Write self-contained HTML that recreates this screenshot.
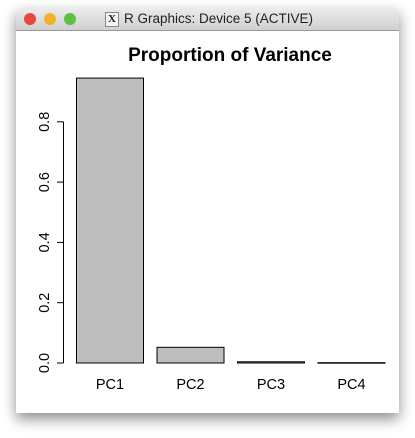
<!DOCTYPE html>
<html><head><meta charset="utf-8"><style>
html,body{margin:0;padding:0;background:#fff;width:415px;height:438px;overflow:hidden}
#win{position:absolute;left:16px;top:8px;width:383px;height:405px;background:#fff;box-shadow:0 6px 14px rgba(0,0,0,.45);border-radius:4px 4px 0 0}
#tb{position:absolute;left:0;top:0;width:383px;height:22px;background:linear-gradient(#ececec,#cfcfcf);border-bottom:1px solid #999;border-radius:4px 4px 0 0;font:13.5px "Liberation Sans",sans-serif;color:#222}
.btn{position:absolute;top:5px;width:12px;height:12px;border-radius:50%}
</style></head><body>
<div id="win">
<div id="tb">
<div class="btn" style="left:8px;background:#e5483f"></div>
<div class="btn" style="left:28px;background:#f2b22c"></div>
<div class="btn" style="left:48px;background:#5fbf45"></div>
<div style="position:absolute;left:89px;top:4px;width:12px;height:13px;background:#f4f4f4;border:1px solid #888;font:bold 11px 'Liberation Serif',serif;line-height:13px;text-align:center">X</div>
<div style="position:absolute;left:108px;top:3px">R Graphics: Device 5 (ACTIVE)</div>
</div>
</div>
<svg id="chart" width="415" height="438" style="position:absolute;left:0;top:0" font-family="Liberation Sans, sans-serif"></svg>
<script>
const categories=["PC1","PC2","PC3","PC4"];
const values=[0.945,0.052,0.004,0.001];
const ticks=[0,0.2,0.4,0.6,0.8];
const tickLabels=["0.0","0.2","0.4","0.6","0.8"];
const svg=document.getElementById('chart');
const NS='http://www.w3.org/2000/svg';
const y0=363, pxPerUnit=301.5;
const y=v=>y0-v*pxPerUnit;
const x=i=>76.5+i*80.5;
const bw=67;
function mk(t,a){const e=document.createElementNS(NS,t);for(const k in a)e.setAttribute(k,a[k]);svg.appendChild(e);return e;}
const title=mk('text',{x:230,y:61,'text-anchor':'middle','font-size':19,'font-weight':'bold',fill:'#000'});
title.textContent='Proportion of Variance';


categories.forEach((c,i)=>{
  const r=mk('rect',{x:x(i),y:y(values[i]),width:bw,height:Math.max(0.5,values[i]*pxPerUnit),fill:'#bebebe',stroke:'#000','stroke-width':1});
  
  
  const t=mk('text',{x:x(i)+bw/2,y:389,'text-anchor':'middle','font-size':14.5,fill:'#000'});
  t.textContent=c;
  
  
});
const ax=mk('line',{x1:63.5,x2:63.5,y1:y(ticks[0]),y2:y(ticks[ticks.length-1]),stroke:'#000'});


ticks.forEach((v,i)=>{
  const l=mk('line',{x1:57,x2:63.5,y1:y(v),y2:y(v),stroke:'#000'});
  
  
  const t=mk('text',{x:49,y:y(v),'text-anchor':'middle','font-size':14.5,fill:'#000',transform:`rotate(-90 49 ${y(v)})`});
  t.textContent=tickLabels[i];
  
  
});
</script>
</body></html>
